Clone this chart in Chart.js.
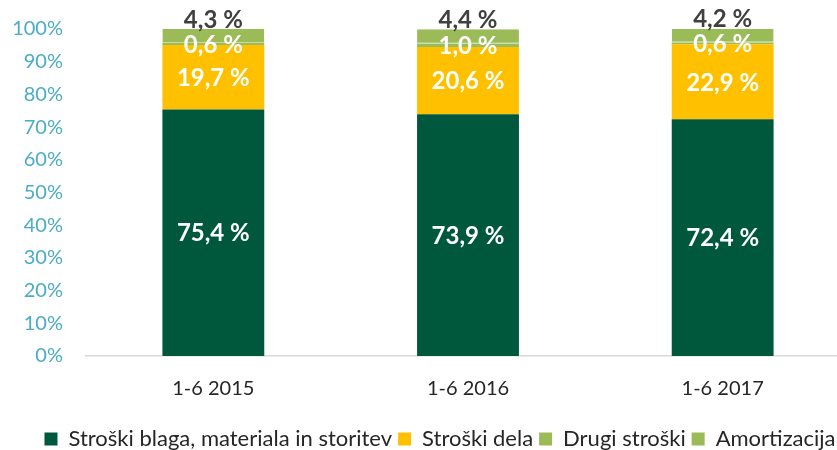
<!DOCTYPE html>
<html>
<head>
<meta charset="utf-8">
<script src="https://cdn.jsdelivr.net/npm/chart.js@4.4.1/dist/chart.umd.min.js"></script>
<style>
  html, body { margin: 0; padding: 0; background: #fff; }
  #wrap { width: 837px; height: 450px; overflow: hidden; }
  #box { width: 880px; height: 463px; }
</style>
</head>
<body>
<div id="wrap"><div id="box"><canvas id="chart"></canvas></div></div>
<script>
const categories = ['1-6 2015', '1-6 2016', '1-6 2017'];
const seriesNames = ['Stroški blaga, materiala in storitev', 'Stroški dela', 'Drugi stroški', 'Amortizacija'];
const blaga = [75.4, 73.9, 72.4];
const dela = [19.7, 20.6, 22.9];
const drugi = [0.6, 1.0, 0.6];
const amortizacija = [4.3, 4.4, 4.2];

const FONT = 'Lato, "Open Sans", sans-serif';

// draws the value labels like Excel data labels
const valueLabels = {
  id: 'valueLabels',
  afterDatasetsDraw(chart) {
    const ctx = chart.ctx;
    ctx.save();
    ctx.font = 'bold 24px ' + FONT;
    ctx.textAlign = 'center';
    chart.data.datasets.forEach((ds, i) => {
      const meta = chart.getDatasetMeta(i);
      meta.data.forEach((bar, j) => {
        const txt = ds.data[j].toFixed(1).replace('.', ',') + ' %';
        if (i === chart.data.datasets.length - 1) {
          ctx.fillStyle = '#404040';
          ctx.textBaseline = 'bottom';
          ctx.fillText(txt, bar.x, bar.y + 3);
        } else {
          ctx.fillStyle = '#ffffff';
          ctx.textBaseline = 'middle';
          ctx.fillText(txt, bar.x, (bar.y + bar.base) / 2 + 1);
        }
      });
    });
    ctx.restore();
  }
};

// the original legend is centred a bit right of the plot area
const shiftLegend = {
  id: 'shiftLegend',
  afterLayout(chart) {
    if (chart.legend) {
      chart.legend.left += 15;
      chart.legend.right += 15;
    }
  }
};

new Chart(document.getElementById('chart'), {
  type: 'bar',
  data: {
    labels: categories,
    datasets: [
      { label: seriesNames[0], data: blaga, backgroundColor: '#00583C' },
      { label: seriesNames[1], data: dela, backgroundColor: '#FFC000' },
      { label: seriesNames[2], data: drugi, backgroundColor: '#9BBB59' },
      {
        label: seriesNames[3], data: amortizacija, backgroundColor: '#9BBB59',
        borderColor: '#C9DCA6', borderWidth: { top: 0, left: 0, right: 0, bottom: 1 }, borderSkipped: false
      }
    ]
  },
  options: {
    responsive: true,
    maintainAspectRatio: false,
    animation: false,
    layout: { padding: { top: 29, right: 30, left: 0, bottom: 3 } },
    datasets: { bar: { categoryPercentage: 1, barPercentage: 0.4 } },
    scales: {
      x: {
        stacked: true,
        grid: { display: false },
        border: { color: '#D9D9D9', width: 1.5 },
        ticks: { color: '#262626', font: { family: FONT, size: 20 }, padding: 13 },
        afterFit(scale) { scale.height = 66; }
      },
      y: {
        stacked: true,
        min: 0,
        max: 100,
        grid: { display: false, drawTicks: false },
        border: { display: false },
        ticks: {
          stepSize: 10,
          color: '#4BACC6',
          padding: 23,
          font: { family: FONT, size: 20 },
          callback: v => v + '%'
        },
        afterFit(scale) {
          scale.width = 86;
          scale.paddingTop = 0;
          scale.paddingBottom = 0;
        }
      }
    },
    plugins: {
      legend: {
        position: 'bottom',
        labels: {
          color: '#262626',
          font: { family: FONT, size: 22 },
          boxWidth: 13,
          boxHeight: 13,
          padding: 6,
          useBorderRadius: false
        }
      },
      tooltip: { enabled: false }
    }
  },
  plugins: [valueLabels, shiftLegend]
});
</script>
</body>
</html>
